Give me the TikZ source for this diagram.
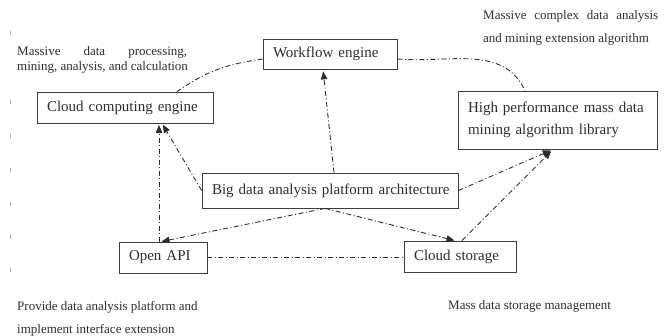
\documentclass[tikz,border=0pt]{standalone}
\usepackage{fontspec}
\setmainfont{Liberation Serif}
\usetikzlibrary{arrows.meta}
\definecolor{ink}{RGB}{45,45,45}
\definecolor{edge}{RGB}{60,60,60}
\tikzset{
  box/.style={draw=edge, line width=0.8pt, text=ink, align=left, inner ysep=0pt,
    inner xsep=10pt, font=\fontsize{15}{22}\selectfont},
  note/.style={text=ink, align=left, inner sep=0pt, anchor=west},
  link/.style={draw=ink, line width=0.9pt, dash pattern=on 5pt off 2.5pt on 1pt off 2.5pt},
  arr/.style={link, -{Triangle[length=8pt,width=6.5pt]}},
  tick/.style={draw=black!30, line width=0.6pt}
}
\begin{document}
\begin{tikzpicture}[x=1pt,y=-1pt]
\useasboundingbox (0,0) rectangle (665,336);
% boxes
\node[box, text width=114pt, minimum height=30pt] (wf) at (330,54) {\mbox{Workflow engine}};
\node[box, text width=156pt, minimum height=31pt] (cce) at (125,107.5) {\mbox{Cloud computing engine}};
\node[box, text width=179pt, minimum height=58pt] (hp) at (557.5,120) {\mbox{High performance mass data}\\\mbox{mining algorithm library}};
\node[box, text width=236pt, minimum height=35pt] (bd) at (330,190.5) {\mbox{Big data analysis platform architecture}};
\node[box, text width=68pt, minimum height=31pt] (api) at (163,257.5) {\mbox{Open API}};
\node[box, text width=92pt, minimum height=31pt] (cs) at (460,256.5) {\mbox{Cloud storage}};
% annotations
\node[note, font=\fontsize{13}{15}\selectfont] (n1) at (17,59.5) {\makebox[170pt][s]{Massive data processing,}\\mining, analysis, and calculation};
\node[note, font=\fontsize{13}{23}\selectfont] (n2) at (483,27.5) {\makebox[175pt][s]{Massive complex data analysis}\\and mining extension algorithm};
\node[note, font=\fontsize{13}{23}\selectfont] (n3) at (17,318.5) {Provide data analysis platform and\\implement interface extension};
\node[note, font=\fontsize{13}{15}\selectfont] (n4) at (448,306) {Mass data storage management};
% connectors
\draw[link] ([yshift=-5pt]wf.west) to[out=188,in=35] ([xshift=52pt]cce.north);
\draw[link] ([yshift=-5pt]wf.east) to[out=-5,in=115] ([xshift=-32.5pt]hp.north);
\draw[arr, shorten >=2pt] ([xshift=4pt]bd.north) -- ([xshift=-7pt]wf.south);
\draw[arr, shorten >=1.5pt] (bd.west) -- ([xshift=37pt]cce.south);
\draw[arr, shorten >=1.5pt] ([xshift=-4pt]api.north) -- ([xshift=34pt]cce.south);
\draw[arr, shorten >=0.5pt] ([xshift=-5pt]bd.south) -- ([xshift=-2pt]api.north);
\draw[arr, shorten >=0.5pt] ([xshift=-5pt]bd.south) -- ([xshift=-5pt]cs.north);
\draw[arr, shorten >=2.5pt] (bd.east) -- ([xshift=-4.5pt]hp.south);
\draw[arr, shorten >=2.5pt] ([xshift=2pt]cs.north) -- ([xshift=-4.5pt]hp.south);
\draw[link] (api.east) -- (api.east -| cs.west);
% faint edge ticks
\foreach \ty in {33,102,136,170,204,237,270} \draw[tick] (10,\ty-2) -- (10,\ty+2);
\end{tikzpicture}
\end{document}
